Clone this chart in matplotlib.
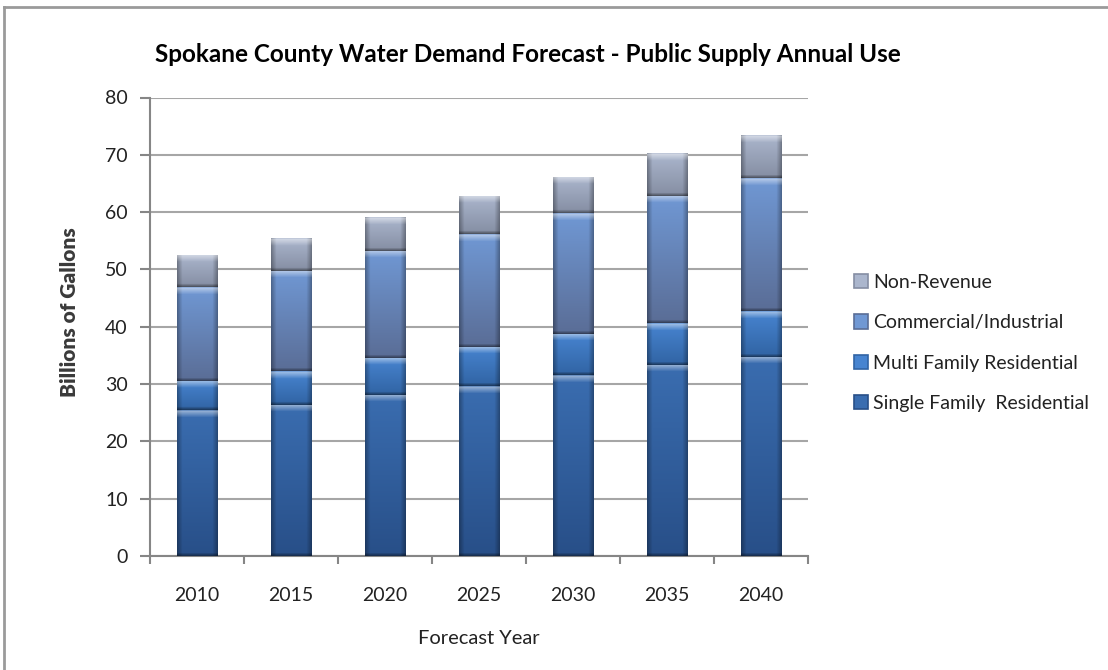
import numpy as np
import matplotlib
matplotlib.use("Agg")
import matplotlib.pyplot as plt
from matplotlib.patches import Rectangle
from matplotlib.lines import Line2D
from matplotlib.colors import to_rgb

plt.rcParams['font.family'] = ['Lato', 'DejaVu Sans']

# values (billions of gallons)
years = ['2010', '2015', '2020', '2025', '2030', '2035', '2040']
single_family = [25.4, 26.4, 28.1, 29.6, 31.5, 33.4, 34.8]
multi_family = [5.1, 5.8, 6.5, 6.9, 7.3, 7.3, 8.0]
commercial = [16.4, 17.6, 18.7, 19.7, 21.1, 22.2, 23.1]
non_revenue = [5.6, 5.6, 5.9, 6.7, 6.3, 7.4, 7.5]

series = [
    ('Single Family  Residential', single_family, '#3a6db0', '#284f88'),
    ('Multi Family Residential', multi_family, '#4784d0', '#3164a4'),
    ('Commercial/Industrial', commercial, '#7098d4', '#5a6d96'),
    ('Non-Revenue', non_revenue, '#abb6cd', '#858ea3'),
]

W, H = 1108, 670
fig = plt.figure(figsize=(W / 100, H / 100), dpi=100)
ax = fig.add_axes([150 / W, 1 - 556 / H, 658 / W, 458.5 / H])

x = np.arange(len(years))
bar_w = 0.43
px_per_unit = 458.5 / 80


def bevel_image(top_c, bot_c, h_px, nx=40):
    top = np.array(to_rgb(top_c))
    bot = np.array(to_rgb(bot_c))
    ny = max(int(round(h_px)), 4)
    t = np.linspace(0, 1, ny)[:, None, None]
    img = top * (1 - t) + bot * t
    img = np.repeat(img, nx, axis=1)
    xs = np.arange(nx)
    d = np.minimum(xs, nx - 1 - xs)
    side = np.clip(1 - d / 5.0, 0, 1) * 0.3
    img = img * (1 - side[None, :, None])
    ys = np.arange(ny)
    hl = np.clip(1 - ys / 7.0, 0, 1) * 0.5
    hl[0] *= 0.5
    img = img + (1 - img) * hl[:, None, None]
    bd = np.clip(1 - (ny - 1 - ys) / 3.0, 0, 1) * 0.4
    img = img * (1 - bd)[:, None, None]
    return np.clip(img, 0, 1)


bottom = np.zeros(len(years))
handles = []
for label, vals, c_top, c_bot in series:
    vals = np.array(vals)
    bars = ax.bar(x, vals, bar_w, bottom=bottom, color=c_top, zorder=2, linewidth=0)
    for patch in bars:
        x0, y0 = patch.get_x(), patch.get_y()
        w, h = patch.get_width(), patch.get_height()
        img = bevel_image(c_top, c_bot, h * px_per_unit)
        im = ax.imshow(img, extent=(x0, x0 + w, y0, y0 + h), aspect='auto',
                       interpolation='bilinear', zorder=3)
        im.set_clip_path(patch)
    bottom = bottom + vals
    handles.append(Rectangle((0, 0), 1, 1, facecolor=c_top, edgecolor=c_bot, linewidth=1.2))

ax.set_xlim(-0.5, len(years) - 0.5)
ax.set_ylim(0, 80)
ax.set_aspect('auto')
ax.set_yticks(np.arange(0, 81, 10))
ax.set_xticks(x)
ax.set_xticklabels(years)
ax.set_xticks(np.arange(-0.5, len(years)), minor=True)
ax.tick_params(axis='x', which='major', length=0, pad=22, labelsize=14, colors='#222222')
ax.tick_params(axis='x', which='minor', length=6, width=1.5, color='#868686', direction='out')
ax.tick_params(axis='y', length=7, width=1.5, color='#868686', pad=9, labelsize=14, labelcolor='#222222')
ax.yaxis.grid(True, color='#a6a6a6', linewidth=1.5, zorder=0)
ax.set_axisbelow(True)
for s in ['top', 'right']:
    ax.spines[s].set_visible(False)
for s in ['left', 'bottom']:
    ax.spines[s].set_color('#868686')
    ax.spines[s].set_linewidth(1.5)

fig.text(528 / W, 1 - 54 / H, 'Spokane County Water Demand Forecast - Public Supply Annual Use',
         ha='center', va='center', fontsize=17.5, fontweight='bold', color='black')
fig.text(479 / W, 1 - 638 / H, 'Forecast Year', ha='center', va='center',
         fontsize=14.5, color='#222222')
fig.text(70 / W, 1 - 312 / H, 'Billions of Gallons', ha='center', va='center',
         rotation=90, fontsize=15, fontweight='heavy', color='#3a3a3a')

leg = fig.legend(handles[::-1], [s[0] for s in series][::-1],
                 loc='center left', bbox_to_anchor=(846 / W, 1 - 343 / H),
                 frameon=False, fontsize=14, handlelength=0.75, handleheight=0.75,
                 handletextpad=0.25, labelspacing=1.2, borderaxespad=0)
for t in leg.get_texts():
    t.set_color('#222222')

# chart frame (top and left edges visible)
fig.add_artist(Line2D([4 / W, 1], [1 - 7 / H, 1 - 7 / H], transform=fig.transFigure,
                      color='#9a9a9a', linewidth=2))
fig.add_artist(Line2D([4 / W, 4 / W], [0, 1 - 7 / H], transform=fig.transFigure,
                      color='#9a9a9a', linewidth=2))

fig.savefig('out.png', dpi=100)
